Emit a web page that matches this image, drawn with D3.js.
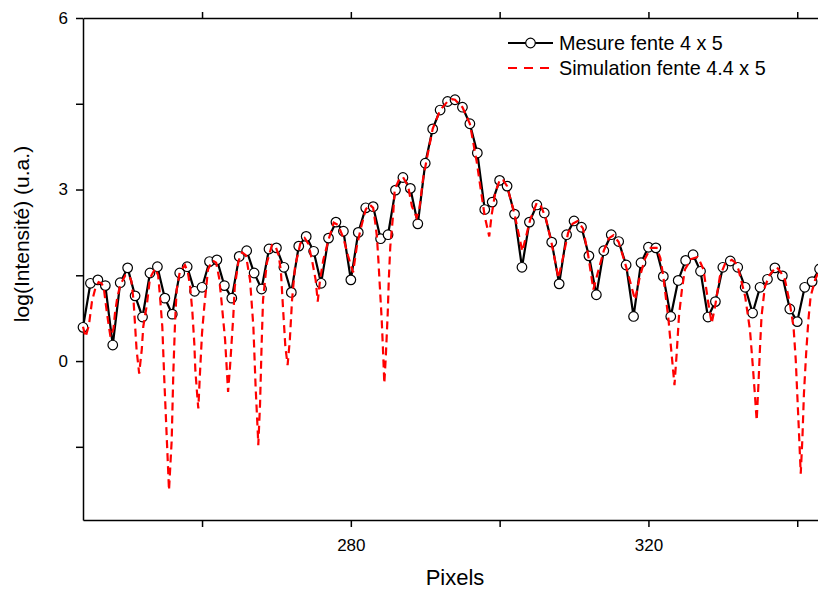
<!DOCTYPE html>
<html lang="fr">
<head>
<meta charset="UTF-8">
<title>Mesure vs simulation fente</title>
<style>
  body { margin: 0; background: #fff; }
  svg { display: block; font-family: "Liberation Sans", Arial, sans-serif; }
  .axis path, .axis line { stroke: #000; stroke-width: 1.5; }
  .axis text { font-size: 17px; fill: #000; }
</style>
</head>
<body>
<svg width="818" height="592"></svg>
<script src="https://d3js.org/d3.v7.min.js"></script>
<script>
// measured points, one per pixel
const pixels = [244, 245, 246, 247, 248, 249, 250, 251, 252, 253, 254, 255, 256, 257, 258, 259,
  260, 261, 262, 263, 264, 265, 266, 267, 268, 269, 270, 271, 272, 273, 274, 275, 276, 277, 278, 279,
  280, 281, 282, 283, 284, 285, 286, 287, 288, 289, 290, 291, 292, 293, 294, 295, 296, 297, 298, 299,
  300, 301, 302, 303, 304, 305, 306, 307, 308, 309, 310, 311, 312, 313, 314, 315, 316, 317, 318, 319,
  320, 321, 322, 323, 324, 325, 326, 327, 328, 329, 330, 331, 332, 333, 334, 335, 336, 337, 338, 339,
  340, 341, 342, 343];
const mesure = [0.59, 1.36, 1.42, 1.32, 0.28, 1.37, 1.63, 1.14, 0.77, 1.54, 1.65, 1.10, 0.82, 1.54, 1.65, 1.22,
  1.29, 1.74, 1.77, 1.32, 1.10, 1.83, 1.93, 1.54, 1.26, 1.96, 1.98, 1.64, 1.20, 2.01, 2.18, 1.92, 1.36, 2.15, 2.43, 2.27,
  1.42, 2.25, 2.68, 2.70, 2.14, 2.21, 2.99, 3.21, 3.02, 2.40, 3.46, 4.06, 4.39, 4.54, 4.57, 4.44, 4.15, 3.64, 2.65, 2.78,
  3.16, 3.06, 2.57, 1.64, 2.43, 2.73, 2.59, 2.08, 1.35, 2.21, 2.45, 2.34, 1.84, 1.16, 1.93, 2.21, 2.09, 1.68, 0.78, 1.72,
  1.99, 1.98, 1.48, 0.78, 1.41, 1.76, 1.86, 1.57, 0.77, 1.04, 1.64, 1.75, 1.64, 1.29, 0.84, 1.29, 1.43, 1.63, 1.49, 0.91,
  0.69, 1.29, 1.39, 1.61];

// simulated curve
const simPixels = [244.0, 244.35, 244.8, 245.2, 245.65, 246.1, 246.5, 246.8, 247.2, 247.45, 247.7, 248.1, 248.3, 248.6,
  249.0, 249.7, 250.2, 250.5, 250.8, 251.2, 251.55, 251.9, 252.1, 252.6, 253.0, 253.7, 254.1, 254.35, 254.66, 254.93,
  255.29, 255.56, 255.92, 256.14, 256.37, 256.59, 257.0, 257.7, 258.1, 258.4, 258.7, 258.96, 259.1, 259.4, 259.5, 259.7,
  260.0, 260.3, 260.8, 261.4, 261.9, 262.3, 262.6, 263.1, 263.5, 263.76, 264.2, 264.4, 264.9, 265.4, 265.9, 266.45,
  266.9, 267.2, 267.5, 267.56, 267.8, 268.0, 268.2, 268.7, 269.4, 269.9, 270.3, 270.6, 270.9, 271.2, 271.5, 271.8,
  272.1, 272.5, 273.2, 273.8, 274.3, 274.8, 275.27, 275.55, 275.86, 276.3, 277.0, 277.7, 278.3, 279.0, 279.6, 280.3,
  280.8, 281.3, 282.0, 282.5, 283.0, 283.3, 283.5, 283.7, 283.9, 284.15, 284.36, 284.5, 284.7, 284.96, 285.1, 285.3,
  285.7, 285.9, 286.5, 287.0, 287.7, 288.2, 288.85, 289.2, 289.7, 290.2, 291.0, 292.0, 293.0, 293.6, 294.0, 295.0,
  296.0, 296.9, 297.6, 298.0, 298.6, 298.9, 299.4, 300.05, 300.5, 301.0, 302.0, 303.05, 304.1, 305.0, 305.6, 306.2,
  307.0, 307.9, 308.55, 309.2, 309.8, 310.5, 311.2, 311.9, 312.6, 313.2, 314.0, 314.7, 315.3, 316.0, 317.0, 318.2,
  318.8, 319.5, 320.3, 321.1, 321.6, 322.0, 322.7, 323.1, 323.5, 323.8, 324.1, 324.5, 324.9, 325.7, 326.6, 327.0,
  327.4, 328.05, 328.5, 328.95, 329.6, 330.3, 331.2, 331.7, 332.1, 333.0, 333.65, 334.0, 334.3, 334.55, 334.77, 335.0,
  335.2, 335.65, 336.3, 337.2, 337.8, 338.35, 339.0, 339.5, 339.8, 340.0, 340.2, 340.47, 340.7, 340.9, 341.2, 341.5,
  341.8, 342.4, 343.0, 343.5];
const simValues = [0.60, 0.42, 0.63, 1.04, 1.27, 1.38, 1.36, 1.27, 0.86, 0.63, 0.42, 0.57, 0.84, 1.10,
  1.33, 1.50, 1.50, 1.40, 1.05, 0.20, -0.22, 0.20, 0.60, 1.00, 1.45, 1.62, 1.50, 1.13, 0.60, -0.33,
  -1.44, -2.26, -1.39, -0.21, 0.67, 1.25, 1.55, 1.68, 1.55, 1.30, 0.86, 0.31, -0.16, -0.68, -0.83, -0.27,
  0.49, 0.95, 1.60, 1.76, 1.72, 1.45, 1.07, 0.37, -0.54, -0.10, 0.78, 1.30, 1.75, 1.90, 1.85, 1.42,
  0.60, -0.45, -1.27, -1.47, -0.74, 0.25, 1.07, 1.71, 2.03, 2.00, 1.85, 1.57, 0.89, 0.25, -0.07, 0.37,
  1.07, 1.65, 2.05, 2.15, 2.05, 1.75, 1.42, 1.04, 1.42, 1.77, 2.12, 2.42, 2.38, 2.15, 1.85, 1.55,
  2.00, 2.30, 2.65, 2.74, 2.68, 2.40, 2.18, 1.77, 1.30, 0.72, 0.08, -0.39, 0.08, 0.84, 1.42, 2.00,
  2.59, 3.00, 3.18, 3.22, 3.06, 2.71, 2.51, 2.65, 3.18, 3.53, 4.06, 4.39, 4.54, 4.58, 4.57, 4.44,
  4.15, 3.50, 2.88, 2.53, 2.18, 2.53, 2.94, 3.18, 3.16, 3.06, 2.57, 1.92, 2.47, 2.77, 2.70, 2.50,
  2.05, 1.45, 1.83, 2.24, 2.40, 2.45, 2.32, 1.85, 1.25, 1.55, 1.93, 2.15, 2.20, 2.08, 1.65, 1.07,
  1.45, 1.78, 1.98, 1.98, 1.80, 1.48, 0.72, 0.14, -0.42, 0.14, 0.78, 1.25, 1.60, 1.78, 1.82, 1.72,
  1.60, 1.01, 0.66, 0.95, 1.48, 1.70, 1.77, 1.72, 1.60, 1.13, 0.54, -0.04, -0.57, -1.04, -0.45, 0.25,
  0.78, 1.30, 1.51, 1.65, 1.55, 1.42, 1.01, 0.60, 0.02, -0.57, -1.15, -1.97, -1.33, -0.57, 0.14, 0.72,
  1.13, 1.42, 1.60, 1.70];

const xTicks = [260, 280, 300, 320, 340];
const xLabels = [280, 320];
const yTicks = [-1.5, 0, 1.5, 3, 4.5, 6];
const yLabels = [0, 3, 6];
const legendLabels = ["Mesure fente 4 x 5", "Simulation fente 4.4 x 5"];

const svg = d3.select("svg");

// plot box (right edge runs off the picture)
const plotLeft = 83, plotTop = 18, plotBottom = 520;
const x = d3.scaleLinear().domain([244, 344]).range([plotLeft, plotLeft + 100 * 7.44]);
const y = d3.scaleLinear().domain([-2.78, 6]).range([plotBottom, plotTop]);

svg.append("g").attr("class", "axis")
  .attr("transform", `translate(0,${plotBottom})`)
  .call(d3.axisBottom(x).tickValues(xTicks).tickSize(7).tickSizeOuter(0).tickPadding(12)
    .tickFormat(d => xLabels.includes(d) ? d : ""));

svg.append("g").attr("class", "axis")
  .attr("transform", `translate(0,${plotTop})`)
  .call(d3.axisTop(x).tickValues(xTicks).tickSize(6).tickSizeOuter(0).tickFormat(""));

svg.append("g").attr("class", "axis")
  .attr("transform", `translate(${plotLeft},0)`)
  .call(d3.axisLeft(y).tickValues(yTicks).tickSize(7).tickSizeOuter(0).tickPadding(8)
    .tickFormat(d => yLabels.includes(d) ? d : ""));

svg.selectAll(".axis text").attr("font-family", "Liberation Sans, Arial, sans-serif");

// axis titles
svg.append("text")
  .attr("x", 455).attr("y", 585)
  .attr("text-anchor", "middle")
  .attr("font-size", 22)
  .text("Pixels");

svg.append("text")
  .attr("transform", "translate(29,234) rotate(-90)")
  .attr("text-anchor", "middle")
  .attr("font-size", 21)
  .text("log(Intensité) (u.a.)");

const plot = svg.append("g");

// measured line + circles
const mesLine = d3.line().x((d, i) => x(pixels[i])).y(d => y(d));
plot.append("path")
  .datum(mesure)
  .attr("d", mesLine)
  .attr("fill", "none")
  .attr("stroke", "#000")
  .attr("stroke-width", 2.2);

plot.selectAll("circle.m")
  .data(mesure)
  .enter()
  .append("circle")
  .attr("class", "m")
  .attr("cx", (d, i) => x(pixels[i]))
  .attr("cy", d => y(d))
  .attr("r", 4.8)
  .attr("fill", "#fff")
  .attr("stroke", "#000")
  .attr("stroke-width", 1.2);

// simulation, dashed red on top
const simLine = d3.line().x((d, i) => x(simPixels[i])).y(d => y(d));
plot.append("path")
  .datum(simValues)
  .attr("d", simLine)
  .attr("fill", "none")
  .attr("stroke", "#ff0000")
  .attr("stroke-width", 2.2)
  .attr("stroke-dasharray", "8,5");

// legend
const legend = svg.append("g").attr("transform", "translate(508,43)");
legend.append("line").attr("x1", 0).attr("x2", 45).attr("y1", 0).attr("y2", 0)
  .attr("stroke", "#000").attr("stroke-width", 2.2);
legend.append("circle").attr("cx", 22.5).attr("cy", 0).attr("r", 4.8)
  .attr("fill", "#fff").attr("stroke", "#000").attr("stroke-width", 1.2);
legend.append("line").attr("x1", 0).attr("x2", 45).attr("y1", 25).attr("y2", 25)
  .attr("stroke", "#ff0000").attr("stroke-width", 2.2).attr("stroke-dasharray", "9,7");

legend.selectAll("text")
  .data(legendLabels)
  .enter()
  .append("text")
  .attr("x", 51)
  .attr("y", (d, i) => i * 25 + 7)
  .attr("font-size", 19.8)
  .text(d => d);
</script>
</body>
</html>
